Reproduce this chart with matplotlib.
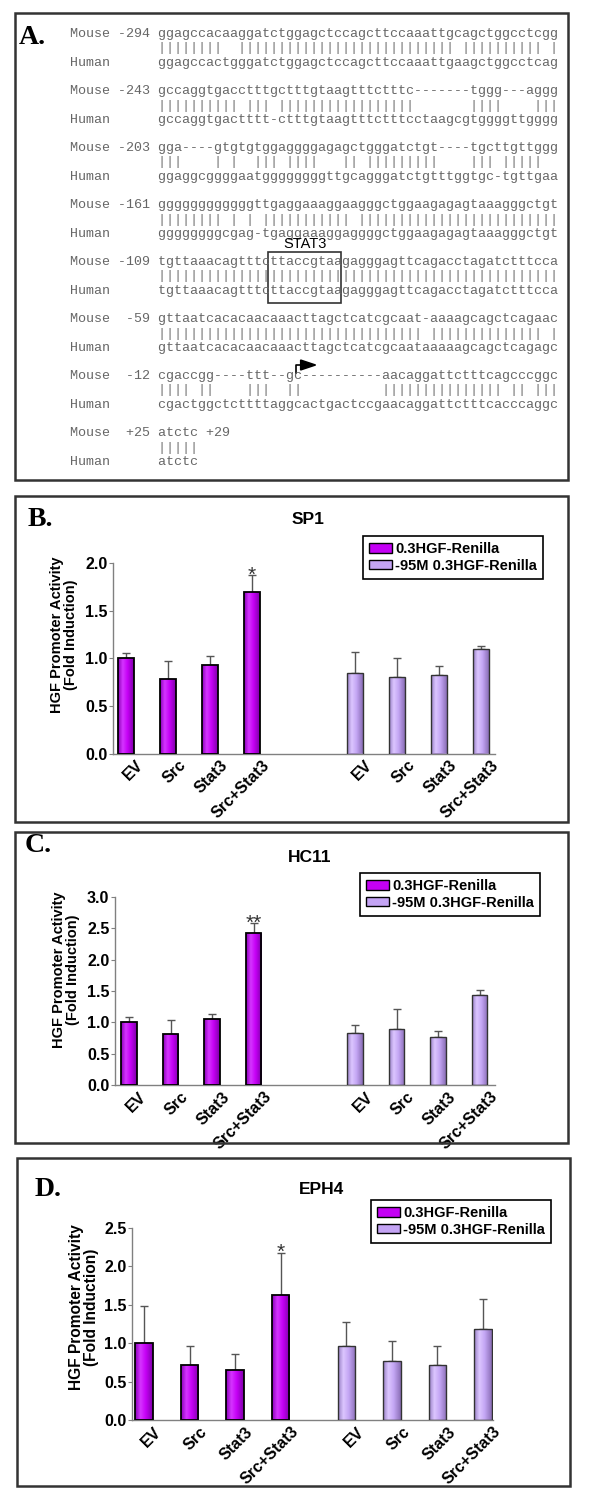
import numpy as np
import matplotlib
matplotlib.use("Agg")
import matplotlib.pyplot as plt
from matplotlib.patches import Rectangle, Patch, Polygon
from matplotlib.lines import Line2D
from matplotlib.colors import LinearSegmentedColormap
from matplotlib.transforms import ScaledTranslation

plt.rcParams['font.family'] = ['Liberation Sans', 'DejaVu Sans']

W, H = 600, 1500
fig = plt.figure(figsize=(6, 15), dpi=100)
fig.patch.set_facecolor("white")


def fx(x):
    return x / W


def fy(y):
    return 1.0 - y / H


# ---------------- Panel A data ----------------
seq_labels = ["Mouse -294", "Mouse -243", "Mouse -203", "Mouse -161",
              "Mouse -109", "Mouse  -59", "Mouse  -12", "Mouse  +25"]
mouse_seqs = [
    "ggagccacaaggatctggagctccagcttccaaattgcagctggcctcgg",
    "gccaggtgacctttgctttgtaagtttctttc-------tggg---aggg",
    "gga----gtgtgtggaggggagagctgggatctgt----tgcttgttggg",
    "ggggggggggggttgaggaaaggaagggctggaagagagtaaagggctgt",
    "tgttaaacagtttcttaccgtaagagggagttcagacctagatctttcca",
    "gttaatcacacaacaaacttagctcatcgcaat-aaaagcagctcagaac",
    "cgaccgg----ttt--gc----------aacaggattctttcagcccggc",
    "atctc",
]
mouse_suffix = ["", "", "", "", "", "", "", " +29"]
human_seqs = [
    "ggagccactgggatctggagctccagcttccaaattgaagctggcctcag",
    "gccaggtgactttt-ctttgtaagtttctttcctaagcgtggggttgggg",
    "ggaggcggggaatggggggggttgcagggatctgtttggtgc-tgttgaa",
    "ggggggggcgag-tgaggaaaggaggggctggaagagagtaaagggctgt",
    "tgttaaacagtttcttaccgtaagagggagttcagacctagatctttcca",
    "gttaatcacacaacaaacttagctcatcgcaataaaaagcagctcagagc",
    "cgactggctcttttaggcactgactccgaacaggattctttcacccaggc",
    "atctc",
]
stat3_label = "STAT3"

# ---------------- Bar chart data ----------------
conditions = ["EV", "Src", "Stat3", "Src+Stat3"]
legend_labels = ["0.3HGF-Renilla", "-95M 0.3HGF-Renilla"]

sp1_wt = [1.00, 0.78, 0.93, 1.70]
sp1_wt_err = [0.05, 0.19, 0.09, 0.17]
sp1_mut = [0.85, 0.80, 0.82, 1.10]
sp1_mut_err = [0.22, 0.20, 0.10, 0.03]

hc11_wt = [1.00, 0.82, 1.06, 2.42]
hc11_wt_err = [0.08, 0.21, 0.07, 0.16]
hc11_mut = [0.83, 0.90, 0.76, 1.44]
hc11_mut_err = [0.12, 0.32, 0.10, 0.08]

eph4_wt = [1.00, 0.72, 0.65, 1.63]
eph4_wt_err = [0.48, 0.24, 0.21, 0.55]
eph4_mut = [0.96, 0.77, 0.71, 1.18]
eph4_mut_err = [0.32, 0.26, 0.25, 0.40]

sp1_stars = ["", "", "", "*"]
hc11_stars = ["", "", "", "**"]
eph4_stars = ["", "", "", "*"]

# ---------------- styles ----------------
PURPLE = "#C400F4"
LAVENDER = "#C4A4F4"
cmap_p = LinearSegmentedColormap.from_list(
    "p", [(0, "#8A00B8"), (0.3, "#D535FF"), (0.6, "#C600F6"), (1, "#7E00A8")])
cmap_l = LinearSegmentedColormap.from_list(
    "l", [(0, "#9880C6"), (0.3, "#DCC6FF"), (0.6, "#C4A6F4"), (1, "#8A6EB6")])
FRAME = "#333333"


def frame(x1, y1, x2, y2):
    fig.add_artist(Rectangle((fx(x1), fy(y2)), (x2 - x1) / W, (y2 - y1) / H,
                             fill=False, edgecolor=FRAME, lw=1.8,
                             transform=fig.transFigure))


def letter(text, x, y):
    fig.text(fx(x), fy(y), text, family="Liberation Serif", fontweight="bold",
             fontsize=20, ha="center", va="center", color="black")


# ---------------- Panel A ----------------
frame(15, 13, 568, 480)
letter("A.", 32, 38)
mono = "Liberation Mono"
x_text = 70
y_first = 34
period = 57
dline = 14.5
char_w = 8.0
for k in range(len(mouse_seqs)):
    ym = y_first + k * period
    ms, hs = mouse_seqs[k], human_seqs[k]
    pipes = "".join("|" if (a == b and a != "-") else " " for a, b in zip(ms, hs))
    fig.text(fx(x_text), fy(ym), seq_labels[k].ljust(11) + ms + mouse_suffix[k],
             family=mono, fontsize=9.6, color="#666666", ha="left", va="center")
    fig.text(fx(x_text), fy(ym + dline), " " * 11 + pipes,
             family=mono, fontsize=9.6, color="#777777", ha="left", va="center")
    fig.text(fx(x_text), fy(ym + 2 * dline), "Human".ljust(11) + hs,
             family=mono, fontsize=9.6, color="#666666", ha="left", va="center")

seq_x0 = x_text + 11 * char_w
# STAT3 box (mouse -109 block, index 4)
bx1 = seq_x0 + 13.75 * char_w
bx2 = seq_x0 + 22.9 * char_w
by1 = y_first + 4 * period - 10
by2 = y_first + 4 * period + 2 * dline + 12
fig.add_artist(Rectangle((fx(bx1), fy(by2)), (bx2 - bx1) / W, (by2 - by1) / H,
                         fill=False, edgecolor="#333333", lw=1.2,
                         transform=fig.transFigure))
fig.text(fx((bx1 + bx2) / 2), fy(by1 - 8), stat3_label, fontsize=10.5,
         ha="center", va="center", color="black")

# transcription start arrow above mouse -12 line (index 6)
ya = y_first + 6 * period
ax_x = seq_x0 + 17.2 * char_w
fig.add_artist(Line2D([fx(ax_x), fx(ax_x), fx(ax_x + 6)],
                      [fy(ya - 3), fy(ya - 11), fy(ya - 11)],
                      color="black", lw=1.2, transform=fig.transFigure))
fig.add_artist(Polygon([[fx(ax_x + 5), fy(ya - 16)], [fx(ax_x + 5), fy(ya - 6)],
                        [fx(ax_x + 20), fy(ya - 11)]], closed=True,
                       facecolor="black", edgecolor="black",
                       transform=fig.transFigure))


# ---------------- Bar panels ----------------
def shade(ax, bars, cmap):
    grad = np.linspace(0, 1, 64).reshape(1, -1)
    for b in bars:
        x, w, h = b.get_x(), b.get_width(), b.get_height()
        im = ax.imshow(grad, extent=[x, x + w, 0, h], aspect="auto", cmap=cmap,
                       zorder=2.5, interpolation="bilinear")
        im.set_clip_path(b)


def bar_panel(box, ax_px, x0c, unit, gap_start, ymax, wt, wt_err, mut, mut_err,
              stars, title, title_xy, let, let_xy, leg_xy, ylab_xy, bar_w,
              ylab_size=10.5):
    frame(*box)
    letter(let, *let_xy)
    left, top, right, bottom = ax_px
    ax = fig.add_axes([fx(left), fy(bottom), (right - left) / W, (bottom - top) / H])
    ax.set_facecolor("none")
    g1 = np.arange(4, dtype=float)
    g2 = gap_start + np.arange(4, dtype=float)
    b1 = ax.bar(g1, wt, width=bar_w, color=PURPLE, zorder=2, linewidth=0)
    b2 = ax.bar(g2, mut, width=bar_w, color=LAVENDER, zorder=2, linewidth=0)
    shade(ax, b1, cmap_p)
    shade(ax, b2, cmap_l)
    ax.bar(g1, wt, width=bar_w, fill=False, edgecolor="black", lw=1.3, zorder=3)
    ax.bar(g2, mut, width=bar_w, fill=False, edgecolor="#333333", lw=1.0, zorder=3)
    ax.errorbar(g1, wt, yerr=[np.zeros(4), wt_err], fmt="none", ecolor="#555555",
                elinewidth=1, capsize=3, capthick=1, zorder=1.5)
    ax.errorbar(g2, mut, yerr=[np.zeros(4), mut_err], fmt="none", ecolor="#555555",
                elinewidth=1, capsize=3, capthick=1, zorder=1.5)
    for xi, v, e, s in zip(g1, wt, wt_err, stars):
        if s:
            ax.annotate(s, (xi, v + e), xytext=(0, -4), textcoords="offset points",
                        ha="center", va="baseline", fontsize=15, color="#333333",
                        annotation_clip=False)
    ax.set_xlim((left - x0c) / unit, (right - x0c) / unit)
    ax.set_ylim(0, ymax)
    for sp in ["top", "right"]:
        ax.spines[sp].set_visible(False)
    for sp in ["left", "bottom"]:
        ax.spines[sp].set_color("#808080")
        ax.spines[sp].set_linewidth(1.0)
    yt = np.arange(0, ymax + 0.01, 0.5)
    ax.set_yticks(yt)
    ax.set_yticklabels(["%.1f" % v for v in yt], fontsize=11.5, fontweight="bold")
    ax.tick_params(axis="y", length=3, color="#808080", pad=1)
    ax.set_xticks(list(g1) + list(g2))
    ax.set_xticklabels(conditions + conditions, rotation=45, ha="right", va="top",
                       rotation_mode="anchor", fontsize=11.5, fontweight="bold")
    ax.tick_params(axis="x", length=0, pad=3)
    off = ScaledTranslation(10 / 100, 0, fig.dpi_scale_trans)
    for lab in ax.get_xticklabels():
        lab.set_transform(lab.get_transform() + off)
    fig.text(fx(title_xy[0]), fy(title_xy[1]), title, fontsize=12.5,
             fontweight="bold", ha="center", va="center")
    fig.text(fx(ylab_xy[0]), fy(ylab_xy[1]), "HGF Promoter Activity\n(Fold Induction)",
             rotation=90, fontsize=ylab_size, fontweight="bold", ha="center",
             va="center", multialignment="center", linespacing=1.0)
    handles = [Patch(facecolor=PURPLE, edgecolor="black", lw=1),
               Patch(facecolor=LAVENDER, edgecolor="black", lw=1)]
    leg = ax.legend(handles, legend_labels, loc="upper left",
                    bbox_to_anchor=(fx(leg_xy[0]), fy(leg_xy[1])),
                    bbox_transform=fig.transFigure, borderaxespad=0,
                    frameon=True, fancybox=False, framealpha=1, edgecolor="black",
                    prop={"weight": "bold", "size": 10.5}, handlelength=1.6,
                    handleheight=0.65, handletextpad=0.2, labelspacing=0.2,
                    borderpad=0.4)
    leg.get_frame().set_linewidth(1.2)
    return ax


bar_panel(box=(15, 496, 568, 822), ax_px=(113, 563, 495, 753.5), x0c=126, unit=42,
          gap_start=5.45, ymax=2.0, wt=sp1_wt, wt_err=sp1_wt_err, mut=sp1_mut,
          mut_err=sp1_mut_err, stars=sp1_stars, title="SP1", title_xy=(308, 520),
          let="B.", let_xy=(40, 520), leg_xy=(363, 536), ylab_xy=(64, 635), bar_w=0.38)

bar_panel(box=(15, 832, 568, 1143), ax_px=(115, 897, 495, 1085), x0c=129, unit=41.5,
          gap_start=5.45, ymax=3.0, wt=hc11_wt, wt_err=hc11_wt_err, mut=hc11_mut,
          mut_err=hc11_mut_err, stars=hc11_stars, title="HC11", title_xy=(310, 858),
          let="C.", let_xy=(38, 846), leg_xy=(360, 873), ylab_xy=(66, 970), bar_w=0.37)

bar_panel(box=(17, 1158, 570, 1486), ax_px=(132, 1228, 493, 1420), x0c=144, unit=45.5,
          gap_start=4.45, ymax=2.5, wt=eph4_wt, wt_err=eph4_wt_err, mut=eph4_mut,
          mut_err=eph4_mut_err, stars=eph4_stars, title="EPH4", title_xy=(321, 1190),
          let="D.", let_xy=(48, 1190), leg_xy=(371, 1200), ylab_xy=(84, 1307),
          bar_w=0.38, ylab_size=11.2)

fig.savefig("out.png", dpi=100, facecolor="white")
